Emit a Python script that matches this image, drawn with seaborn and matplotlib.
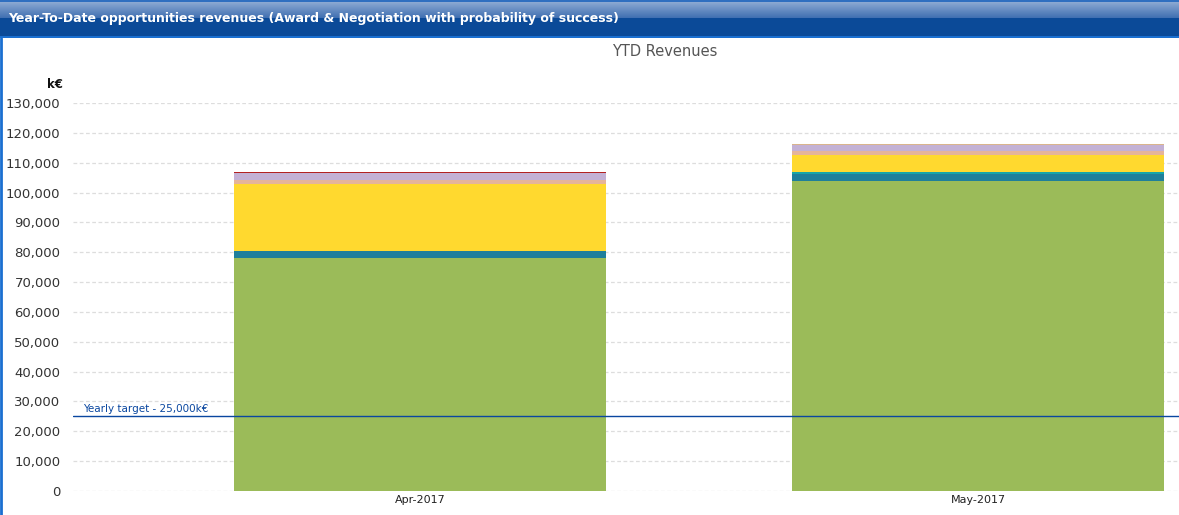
import numpy as np
import pandas as pd
import matplotlib
matplotlib.use("Agg")
import matplotlib.pyplot as plt
import seaborn as sns
from matplotlib.ticker import FuncFormatter, MultipleLocator
from matplotlib.colors import to_rgb

# ---- data ----
months = ["Apr-2017", "May-2017"]
series_names = ["S1", "S2", "S3", "S4", "S5", "S6", "S7", "S8"]
s1 = [78000, 104000]
s2 = [2400, 2350]
s3 = [0, 650]
s4 = [22400, 5700]
s5 = [1300, 1350]
s6 = [2500, 2000]
s7 = [0, 300]
s8 = [300, 0]
series_values = [s1, s2, s3, s4, s5, s6, s7, s8]
series_colors = ["#9BBB59", "#1F7F9B", "#17A5A8", "#FFD92F",
                 "#E5B49A", "#C3B1D5", "#D9B48C", "#B22222"]
target = 25000
target_label = "Yearly target - 25,000k€"
header_title = "Year-To-Date opportunities revenues (Award & Negotiation with probability of success)"
chart_title = "YTD Revenues"
y_unit = "k€"

sns.set_theme(style="white")
plt.rcParams["font.family"] = ["DejaVu Sans"]

W, H = 1179, 515
fig = plt.figure(figsize=(W / 100, H / 100), dpi=100)

# ---- header bar ----
hax = fig.add_axes([0, 1 - 38 / H, 1, 38 / H])
rows = 38
top = np.array(to_rgb("#8AA8D2"))
mid = np.array(to_rgb("#3D6DB0"))
dark = np.array(to_rgb("#0B4A98"))
grad = np.zeros((rows, 1, 3))
for i in range(rows):
    if i < 2:
        grad[i, 0] = to_rgb("#2F6FC0")
    elif i < 18:
        t = (i - 2) / 16
        grad[i, 0] = top * (1 - t) + mid * t
    elif i < 36:
        grad[i, 0] = dark
    else:
        grad[i, 0] = to_rgb("#1A6FD0")
hax.imshow(grad, aspect="auto", extent=[0, 1, 0, 1], interpolation="nearest")
hax.set_axis_off()
hax.text(8 / W, 0.52, header_title, transform=hax.transAxes, color="white",
         fontsize=9, fontweight="bold", va="center", ha="left")

# left border line
fig.add_artist(plt.Line2D([1 / W, 1 / W], [0, 1 - 38 / H], color="#1A6FD0", lw=2))

# ---- main chart ----
left, right, bottom_px, top_px = 73, 1179, 491, 103
ax = fig.add_axes([left / W, 1 - bottom_px / H, (right - left) / W, (bottom_px - top_px) / H])

bottom = np.zeros(len(months))
for name, vals, col in zip(series_names, series_values, series_colors):
    df = pd.DataFrame({"month": months, "value": vals})
    sns.barplot(data=df, x="month", y="value", color=col, width=0.667,
                bottom=bottom.copy(), ax=ax, saturation=1, linewidth=0, errorbar=None)
    bottom += np.array(vals)

ax.set_ylim(0, 130000)
ax.set_xlim(-0.622, 1.36)
ax.yaxis.set_major_locator(MultipleLocator(10000))
ax.yaxis.set_major_formatter(FuncFormatter(lambda v, p: f"{int(v):,}"))
ax.grid(axis="y", color="#DDDDDD", linestyle=(0, (3, 2)), linewidth=0.9)
ax.set_axisbelow(True)
for s in ax.spines.values():
    s.set_visible(False)
ax.tick_params(axis="y", length=0, pad=9, labelsize=9.5, labelcolor="#333333")
ax.tick_params(axis="x", length=0, pad=3, labelsize=8, labelcolor="#222222")
ax.set_xlabel("")
ax.set_ylabel("")

ax.axhline(target, color="#0A47A0", lw=1.0, zorder=5)
ax.text(0.009, target + 900, target_label, transform=ax.get_yaxis_transform(),
        color="#0A47A0", fontsize=7.5, ha="left", va="bottom")

fig.text(665 / W, 1 - 52 / H, chart_title, ha="center", va="center",
         fontsize=10.5, color="#555555")
fig.text(55 / W, 1 - 84 / H, y_unit, ha="center", va="center",
         fontsize=8.5, fontweight="bold", color="#111111")

fig.savefig("out.png", dpi=100)
